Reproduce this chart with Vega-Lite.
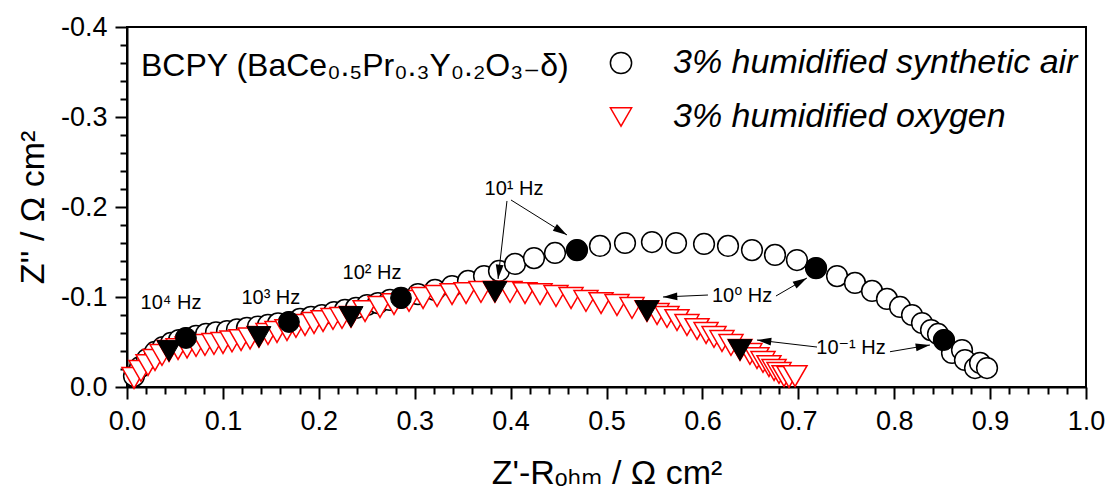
{
  "$schema": "https://vega.github.io/schema/vega-lite/v6.json",
  "width": 959,
  "height": 360,
  "autosize": "none",
  "padding": {"left": 127, "top": 27, "right": 27, "bottom": 116},
  "background": "white",
  "config": {
    "font": "Liberation Sans",
    "view": {"stroke": "black", "strokeWidth": 2},
    "axis": {"grid": false, "domainColor": "black", "domainWidth": 2, "tickColor": "black", "tickWidth": 2, "labelColor": "black", "titleColor": "black", "labelFont": "Liberation Sans", "titleFont": "Liberation Sans, DejaVu Sans", "titleFontWeight": "normal", "labelFontSize": 27, "titleFontSize": 34, "labelOverlap": false, "labelFlush": false, "labelBound": false}
  },
  "datasets": {
    "eis": [
      {"zre":0.0073,"zim":-0.0122,"gas":"air"},
      {"zre":0.0136,"zim":-0.0222,"gas":"air"},
      {"zre":0.0209,"zim":-0.0311,"gas":"air"},
      {"zre":0.0292,"zim":-0.0389,"gas":"air"},
      {"zre":0.0375,"zim":-0.0444,"gas":"air"},
      {"zre":0.0459,"zim":-0.0489,"gas":"air"},
      {"zre":0.0542,"zim":-0.0522,"gas":"air"},
      {"zre":0.0615,"zim":-0.0544,"gas":"air","f":1},
      {"zre":0.0720,"zim":-0.0567,"gas":"air"},
      {"zre":0.0824,"zim":-0.0589,"gas":"air"},
      {"zre":0.0928,"zim":-0.0606,"gas":"air"},
      {"zre":0.1043,"zim":-0.0622,"gas":"air"},
      {"zre":0.1147,"zim":-0.0639,"gas":"air"},
      {"zre":0.1251,"zim":-0.0656,"gas":"air"},
      {"zre":0.1366,"zim":-0.0672,"gas":"air"},
      {"zre":0.1470,"zim":-0.0689,"gas":"air"},
      {"zre":0.1575,"zim":-0.0706,"gas":"air"},
      {"zre":0.1689,"zim":-0.0722,"gas":"air","f":1},
      {"zre":0.1804,"zim":-0.0756,"gas":"air"},
      {"zre":0.1919,"zim":-0.0778,"gas":"air"},
      {"zre":0.2033,"zim":-0.0800,"gas":"air"},
      {"zre":0.2159,"zim":-0.0833,"gas":"air"},
      {"zre":0.2273,"zim":-0.0856,"gas":"air"},
      {"zre":0.2388,"zim":-0.0878,"gas":"air"},
      {"zre":0.2503,"zim":-0.0911,"gas":"air"},
      {"zre":0.2617,"zim":-0.0933,"gas":"air"},
      {"zre":0.2742,"zim":-0.0967,"gas":"air"},
      {"zre":0.2857,"zim":-0.0989,"gas":"air","f":1},
      {"zre":0.3034,"zim":-0.1033,"gas":"air"},
      {"zre":0.3212,"zim":-0.1078,"gas":"air"},
      {"zre":0.3389,"zim":-0.1122,"gas":"air"},
      {"zre":0.3556,"zim":-0.1178,"gas":"air"},
      {"zre":0.3723,"zim":-0.1233,"gas":"air"},
      {"zre":0.3879,"zim":-0.1289,"gas":"air"},
      {"zre":0.4046,"zim":-0.1367,"gas":"air"},
      {"zre":0.4244,"zim":-0.1433,"gas":"air"},
      {"zre":0.4463,"zim":-0.1489,"gas":"air"},
      {"zre":0.4692,"zim":-0.1522,"gas":"air","f":1},
      {"zre":0.4932,"zim":-0.1567,"gas":"air"},
      {"zre":0.5193,"zim":-0.1600,"gas":"air"},
      {"zre":0.5474,"zim":-0.1611,"gas":"air"},
      {"zre":0.5725,"zim":-0.1600,"gas":"air"},
      {"zre":0.6017,"zim":-0.1589,"gas":"air"},
      {"zre":0.6267,"zim":-0.1567,"gas":"air"},
      {"zre":0.6517,"zim":-0.1522,"gas":"air"},
      {"zre":0.6757,"zim":-0.1467,"gas":"air"},
      {"zre":0.6986,"zim":-0.1411,"gas":"air"},
      {"zre":0.7185,"zim":-0.1322,"gas":"air","f":1},
      {"zre":0.7404,"zim":-0.1233,"gas":"air"},
      {"zre":0.7591,"zim":-0.1156,"gas":"air"},
      {"zre":0.7769,"zim":-0.1067,"gas":"air"},
      {"zre":0.7925,"zim":-0.0978,"gas":"air"},
      {"zre":0.8061,"zim":-0.0889,"gas":"air"},
      {"zre":0.8186,"zim":-0.0800,"gas":"air"},
      {"zre":0.8290,"zim":-0.0711,"gas":"air"},
      {"zre":0.8384,"zim":-0.0633,"gas":"air"},
      {"zre":0.8457,"zim":-0.0589,"gas":"air"},
      {"zre":0.8519,"zim":-0.0522,"gas":"air","f":1},
      {"zre":0.8603,"zim":-0.0378,"gas":"air"},
      {"zre":0.8707,"zim":-0.0411,"gas":"air"},
      {"zre":0.8738,"zim":-0.0300,"gas":"air"},
      {"zre":0.8843,"zim":-0.0211,"gas":"air"},
      {"zre":0.8895,"zim":-0.0267,"gas":"air"},
      {"zre":0.8968,"zim":-0.0211,"gas":"air"},
      {"zre":0.0073,"zim":-0.0100,"gas":"oxygen"},
      {"zre":0.0146,"zim":-0.0178,"gas":"oxygen"},
      {"zre":0.0219,"zim":-0.0244,"gas":"oxygen"},
      {"zre":0.0292,"zim":-0.0300,"gas":"oxygen"},
      {"zre":0.0365,"zim":-0.0356,"gas":"oxygen"},
      {"zre":0.0438,"zim":-0.0400,"gas":"oxygen","f":1},
      {"zre":0.0532,"zim":-0.0422,"gas":"oxygen"},
      {"zre":0.0626,"zim":-0.0439,"gas":"oxygen"},
      {"zre":0.0720,"zim":-0.0456,"gas":"oxygen"},
      {"zre":0.0813,"zim":-0.0467,"gas":"oxygen"},
      {"zre":0.0907,"zim":-0.0478,"gas":"oxygen"},
      {"zre":0.1001,"zim":-0.0489,"gas":"oxygen"},
      {"zre":0.1095,"zim":-0.0506,"gas":"oxygen"},
      {"zre":0.1189,"zim":-0.0522,"gas":"oxygen"},
      {"zre":0.1283,"zim":-0.0539,"gas":"oxygen"},
      {"zre":0.1376,"zim":-0.0556,"gas":"oxygen","f":1},
      {"zre":0.1470,"zim":-0.0589,"gas":"oxygen"},
      {"zre":0.1564,"zim":-0.0611,"gas":"oxygen"},
      {"zre":0.1668,"zim":-0.0633,"gas":"oxygen"},
      {"zre":0.1762,"zim":-0.0667,"gas":"oxygen"},
      {"zre":0.1856,"zim":-0.0689,"gas":"oxygen"},
      {"zre":0.1950,"zim":-0.0711,"gas":"oxygen"},
      {"zre":0.2044,"zim":-0.0733,"gas":"oxygen"},
      {"zre":0.2148,"zim":-0.0756,"gas":"oxygen"},
      {"zre":0.2242,"zim":-0.0767,"gas":"oxygen"},
      {"zre":0.2336,"zim":-0.0778,"gas":"oxygen","f":1},
      {"zre":0.2482,"zim":-0.0844,"gas":"oxygen"},
      {"zre":0.2638,"zim":-0.0889,"gas":"oxygen"},
      {"zre":0.2784,"zim":-0.0922,"gas":"oxygen"},
      {"zre":0.2941,"zim":-0.0956,"gas":"oxygen"},
      {"zre":0.3087,"zim":-0.0989,"gas":"oxygen"},
      {"zre":0.3233,"zim":-0.1011,"gas":"oxygen"},
      {"zre":0.3389,"zim":-0.1033,"gas":"oxygen"},
      {"zre":0.3535,"zim":-0.1044,"gas":"oxygen"},
      {"zre":0.3691,"zim":-0.1056,"gas":"oxygen"},
      {"zre":0.3837,"zim":-0.1056,"gas":"oxygen","f":1},
      {"zre":0.3994,"zim":-0.1056,"gas":"oxygen"},
      {"zre":0.4150,"zim":-0.1044,"gas":"oxygen"},
      {"zre":0.4307,"zim":-0.1033,"gas":"oxygen"},
      {"zre":0.4473,"zim":-0.1011,"gas":"oxygen"},
      {"zre":0.4630,"zim":-0.0989,"gas":"oxygen"},
      {"zre":0.4786,"zim":-0.0956,"gas":"oxygen"},
      {"zre":0.4943,"zim":-0.0933,"gas":"oxygen"},
      {"zre":0.5109,"zim":-0.0911,"gas":"oxygen"},
      {"zre":0.5266,"zim":-0.0878,"gas":"oxygen"},
      {"zre":0.5422,"zim":-0.0844,"gas":"oxygen","f":1},
      {"zre":0.5527,"zim":-0.0811,"gas":"oxygen"},
      {"zre":0.5631,"zim":-0.0778,"gas":"oxygen"},
      {"zre":0.5735,"zim":-0.0744,"gas":"oxygen"},
      {"zre":0.5839,"zim":-0.0689,"gas":"oxygen"},
      {"zre":0.5944,"zim":-0.0644,"gas":"oxygen"},
      {"zre":0.6038,"zim":-0.0600,"gas":"oxygen"},
      {"zre":0.6121,"zim":-0.0556,"gas":"oxygen"},
      {"zre":0.6204,"zim":-0.0511,"gas":"oxygen"},
      {"zre":0.6298,"zim":-0.0467,"gas":"oxygen"},
      {"zre":0.6392,"zim":-0.0411,"gas":"oxygen","f":1},
      {"zre":0.6496,"zim":-0.0367,"gas":"oxygen"},
      {"zre":0.6569,"zim":-0.0322,"gas":"oxygen"},
      {"zre":0.6632,"zim":-0.0278,"gas":"oxygen"},
      {"zre":0.6694,"zim":-0.0233,"gas":"oxygen"},
      {"zre":0.6747,"zim":-0.0189,"gas":"oxygen"},
      {"zre":0.6799,"zim":-0.0156,"gas":"oxygen"},
      {"zre":0.6851,"zim":-0.0122,"gas":"oxygen"},
      {"zre":0.6903,"zim":-0.0111,"gas":"oxygen"},
      {"zre":0.6966,"zim":-0.0122,"gas":"oxygen"}
    ],
    "labels": [
      {"zre":0.0459,"zim":-0.0933,"text":"10⁴ Hz"},
      {"zre":0.1500,"zim":-0.0990,"text":"10³ Hz"},
      {"zre":0.2555,"zim":-0.1267,"text":"10² Hz"},
      {"zre":0.4035,"zim":-0.2200,"text":"10¹ Hz"},
      {"zre":0.6413,"zim":-0.1010,"text":"10⁰ Hz"},
      {"zre":0.7550,"zim":-0.0433,"text":"10⁻¹ Hz"}
    ],
    "arrows": [
      {"zre":0.3869,"zim":-0.1200,"zre2":0.3962,"zim2":-0.2067},
      {"zre":0.4588,"zim":-0.1689,"zre2":0.4004,"zim2":-0.2078},
      {"zre":0.5589,"zim":-0.1000,"zre2":0.6058,"zim2":-0.1022},
      {"zre":0.7090,"zim":-0.1211,"zre2":0.6767,"zim2":-0.1011},
      {"zre":0.6569,"zim":-0.0522,"zre2":0.7195,"zim2":-0.0444},
      {"zre":0.8373,"zim":-0.0467,"zre2":0.7956,"zim2":-0.0392}
    ],
    "caption": [
      {"zre":0.0146,"zim":-0.3567,"text":"BCPY (BaCe₀.₅Pr₀.₃Y₀.₂O₃₋δ)"}
    ]
  },
  "encoding": {
    "x": {
      "field": "zre", "type": "quantitative",
      "scale": {"domain": [0, 1], "nice": false, "zero": false},
      "axis": {
        "title": "Z'-Rₒₕₘ / Ω cm²",
        "values": [0,0.02,0.04,0.06,0.08,0.1,0.12,0.14,0.16,0.18,0.2,0.22,0.24,0.26,0.28,0.3,0.32,0.34,0.36,0.38,0.4,0.42,0.44,0.46,0.48,0.5,0.52,0.54,0.56,0.58,0.6,0.62,0.64,0.66,0.68,0.7,0.72,0.74,0.76,0.78,0.8,0.82,0.84,0.86,0.88,0.9,0.92,0.94,0.96,0.98,1],
        "labelExpr": "abs(datum.value*10-round(datum.value*10))<1e-6 ? format(datum.value,'.1f') : ''",
        "tickSize": {"condition": {"test": "abs(datum.value*10-round(datum.value*10))<1e-6", "value": 12}, "value": 7},
        "labelPadding": 9,
        "titlePadding": 22
      }
    },
    "y": {
      "field": "zim", "type": "quantitative",
      "scale": {"domain": [0, -0.4], "nice": false, "zero": false},
      "axis": {
        "title": "Z'' / Ω cm²",
        "values": [0,-0.02,-0.04,-0.06,-0.08,-0.1,-0.12,-0.14,-0.16,-0.18,-0.2,-0.22,-0.24,-0.26,-0.28,-0.3,-0.32,-0.34,-0.36,-0.38,-0.4],
        "labelExpr": "abs(datum.value*10-round(datum.value*10))<1e-6 ? replace(format(datum.value,'.1f'),'−','-') : ''",
        "tickSize": {"condition": {"test": "abs(datum.value*10-round(datum.value*10))<1e-6", "value": 12}, "value": 7},
        "labelPadding": 8,
        "titlePadding": 10
      }
    }
  },
  "layer": [
    {
      "data": {"name": "eis"},
      "transform": [{"filter": "datum.gas == 'air'"}],
      "mark": {"type": "point", "filled": true, "fill": "white", "strokeWidth": 1.5, "size": 430, "opacity": 1},
      "encoding": {
        "shape": {"field": "gas", "type": "nominal", "scale": {"domain": ["air", "oxygen"], "range": ["circle", "triangle-down"]},
          "legend": {"orient": "none", "legendX": 477, "legendY": 19, "title": null, "padding": 0, "labelFont": "Liberation Sans", "labelFontSize": 34, "labelFontStyle": "italic", "labelColor": "black", "labelLimit": 0, "symbolSize": 450, "symbolStrokeWidth": 1.5, "symbolFillColor": "white", "rowPadding": 20, "labelOffset": 35, "labelExpr": "datum.label == 'air' ? '3% humidified synthetic air' : '3% humidified oxygen'"}},
        "stroke": {"field": "gas", "type": "nominal", "scale": {"domain": ["air", "oxygen"], "range": ["black", "red"]},
          "legend": {"orient": "none", "legendX": 477, "legendY": 19, "title": null, "padding": 0, "labelFont": "Liberation Sans", "labelFontSize": 34, "labelFontStyle": "italic", "labelColor": "black", "labelLimit": 0, "symbolSize": 450, "symbolStrokeWidth": 1.5, "symbolFillColor": "white", "rowPadding": 20, "labelOffset": 35, "labelExpr": "datum.label == 'air' ? '3% humidified synthetic air' : '3% humidified oxygen'"}}
      }
    },
    {
      "data": {"name": "eis"},
      "transform": [{"filter": "datum.gas == 'oxygen'"}],
      "mark": {"type": "point", "filled": true, "fill": "white", "strokeWidth": 1.5, "size": 576, "opacity": 1},
      "encoding": {
        "shape": {"field": "gas", "type": "nominal"},
        "stroke": {"field": "gas", "type": "nominal"}
      }
    },
    {
      "data": {"name": "eis"},
      "transform": [{"filter": "datum.gas == 'air' && datum.f == 1"}],
      "mark": {"type": "point", "shape": "circle", "filled": true, "fill": "black", "stroke": "black", "strokeWidth": 1, "size": 430, "opacity": 1}
    },
    {
      "data": {"name": "eis"},
      "transform": [{"filter": "datum.gas == 'oxygen' && datum.f == 1"}],
      "mark": {"type": "point", "shape": "triangle-down", "filled": true, "fill": "black", "stroke": "black", "strokeWidth": 1, "size": 576, "opacity": 1}
    },
    {
      "data": {"name": "arrows"},
      "mark": {"type": "rule", "color": "black", "strokeWidth": 1},
      "encoding": {
        "x2": {"field": "zre2"},
        "y2": {"field": "zim2"}
      }
    },
    {
      "data": {"name": "arrows"},
      "transform": [{"calculate": "atan2((datum.zre - datum.zre2) * 959, -(datum.zim - datum.zim2) * 900) * 180 / PI", "as": "ang"}],
      "mark": {"type": "point", "shape": "M0,0L0.3,1.1L-0.3,1.1Z", "filled": true, "fill": "black", "strokeWidth": 0, "size": 676, "opacity": 1},
      "encoding": {
        "angle": {"field": "ang", "type": "quantitative", "scale": null}
      }
    },
    {
      "data": {"name": "labels"},
      "mark": {"type": "text", "font": "Liberation Sans, DejaVu Sans", "fontSize": 20, "align": "center", "baseline": "middle", "color": "black"},
      "encoding": {"text": {"field": "text"}}
    },
    {
      "data": {"name": "caption"},
      "mark": {"type": "text", "font": "Liberation Sans, DejaVu Sans", "fontSize": 32, "align": "left", "baseline": "middle", "color": "black"},
      "encoding": {"text": {"field": "text"}}
    }
  ]
}
